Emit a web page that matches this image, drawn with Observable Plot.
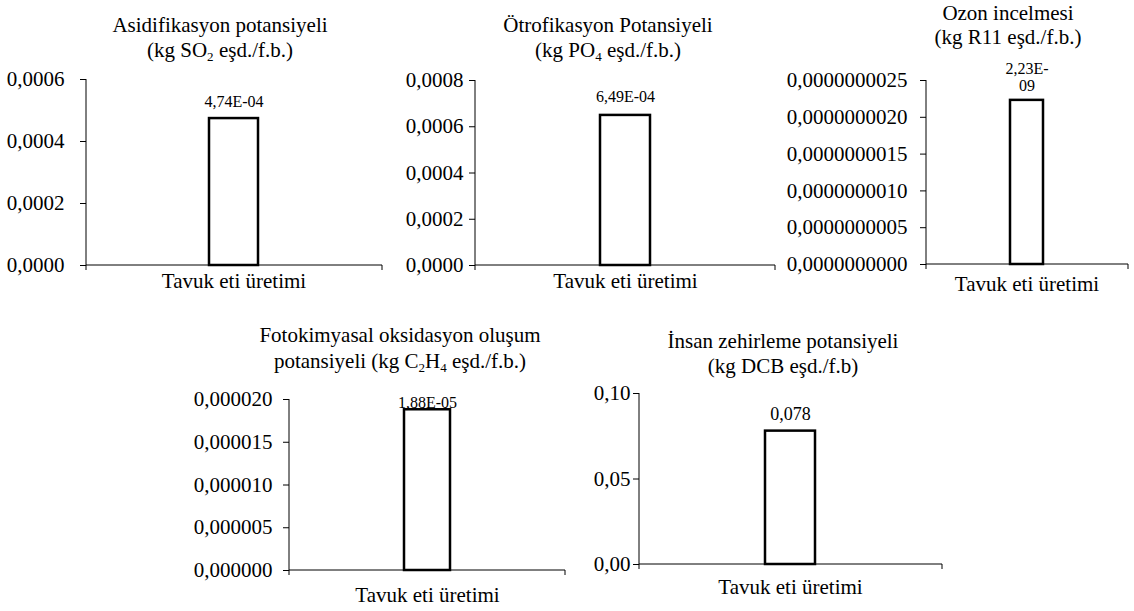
<!DOCTYPE html>
<html><head><meta charset="utf-8">
<script src="https://cdn.jsdelivr.net/npm/d3@7"></script>
<script src="https://cdn.jsdelivr.net/npm/@observablehq/plot@0.6"></script>
<style>
body{margin:0;background:#fff;}
#chart{position:relative;width:1134px;height:611px;font-family:'Liberation Serif', serif;color:#000;overflow:hidden;}
.title{position:absolute;text-align:center;font-size:21px;white-space:nowrap;transform:translateX(-50%);font-family:'Liberation Serif', serif;}
.title .sub{font-size:0.62em;vertical-align:-0.3em;line-height:0;}
.panel{position:absolute;}
</style></head><body><div id="chart"></div>
<script>
// ---- data ----
const category = "Tavuk eti üretimi";
const titleLine1 = ["Asidifikasyon potansiyeli", "Ötrofikasyon Potansiyeli", "Ozon incelmesi", "Fotokimyasal oksidasyon oluşum", "İnsan zehirleme potansiyeli"];
const titleLine2 = ["(kg SO<span class='sub'>2</span> eşd./f.b.)", "(kg PO<span class='sub'>4</span> eşd./f.b.)", "(kg R11 eşd./f.b.)", "potansiyeli (kg C<span class='sub'>2</span>H<span class='sub'>4</span> eşd./f.b.)", "(kg DCB eşd./f.b)"];
const values = [4.74e-4, 6.49e-4, 2.23e-9, 1.88e-5, 0.078];
const valueLabels = ["4,74E-04", "6,49E-04", "2,23E-\n09", "1,88E-05", "0,078"];
const yMax = [0.0006, 0.0008, 2.5e-9, 0.00002, 0.1];
const yTicks1 = [0, 0.0002, 0.0004, 0.0006];
const yTicks2 = [0, 0.0002, 0.0004, 0.0006, 0.0008];
const yTicks3 = [0, 5e-10, 1e-9, 1.5e-9, 2e-9, 2.5e-9];
const yTicks4 = [0, 5e-6, 1e-5, 1.5e-5, 2e-5];
const yTicks5 = [0, 0.05, 0.1];
const yTicks = [yTicks1, yTicks2, yTicks3, yTicks4, yTicks5];
const yDecimals = [4, 4, 10, 6, 2];

// ---- layout ----
const layout = [
  {left:0,   top:55,  width:390, height:245, mL:86,  mR:8, mT:24, mB:35, yPad:16, xPad:8,  dy:-12, fs:16, tx:220,  ty:12.5, lh:25},
  {left:395, top:55,  width:385, height:245, mL:80,  mR:5, mT:25, mB:35, yPad:6,  xPad:8,  dy:-13, fs:16, tx:608,  ty:12.5, lh:25},
  {left:780, top:55,  width:354, height:245, mL:146, mR:6, mT:25, mB:36, yPad:13, xPad:12, dy:-9,  fs:16, tx:1008, ty:1,    lh:24},
  {left:170, top:385, width:400, height:226, mL:119, mR:5, mT:14, mB:41, yPad:11, xPad:17, dy:-2,  fs:16, tx:400,  ty:322,  lh:26},
  {left:575, top:380, width:375, height:231, mL:64,  mR:8, mT:13, mB:47, yPad:3,  xPad:15, dy:-11, fs:18, tx:783,  ty:328.5,lh:25}
];

const FONT = "'Liberation Serif', serif";
const loc = d3.formatLocale({decimal: ",", thousands: ".", grouping: [3], currency: ["", ""]});
const chart = document.getElementById("chart");

values.forEach((v, i) => {
  const L = layout[i];
  const data = [{c: category, v, l: valueLabels[i]}];
  const fmt = loc.format(`.${yDecimals[i]}f`);
  const plot = Plot.plot({
    width: L.width, height: L.height,
    marginLeft: L.mL, marginRight: L.mR, marginTop: L.mT, marginBottom: L.mB,
    style: {fontFamily: FONT, fontSize: "21px", color: "#000", background: "transparent", overflow: "visible"},
    x: {domain: [category], padding: 0.715},
    y: {domain: [0, yMax[i]]},
    marks: [
      Plot.axisY(yTicks[i], {tickSize: 6, tickPadding: L.yPad, tickFormat: fmt, fontSize: 21, fontFamily: FONT, label: null, stroke: "#000"}),
      Plot.axisX({tickSize: 0, tickPadding: L.xPad, fontSize: 21, fontFamily: FONT, label: null}),
      Plot.barY(data, {x: "c", y: "v", fill: "white", stroke: "black", strokeWidth: 2.5}),
      Plot.text(data, {x: "c", y: "v", text: "l", lineAnchor: "bottom", dy: L.dy, fontSize: L.fs, fontFamily: FONT, fill: "#000", lineHeight: 1.1})
    ]
  });
  // axis lines from the plot's own scales
  const sx = plot.scale("x"), sy = plot.scale("y");
  const [xa, xb] = sx.range;
  const y0 = sy.apply(0), yTop = sy.apply(yMax[i]);
  const g = d3.select(plot).append("g").attr("stroke", "#000").attr("stroke-width", 1).attr("fill", "none");
  g.append("line").attr("x1", xa).attr("x2", xa).attr("y1", yTop).attr("y2", y0 + 5);
  g.append("line").attr("x1", xa).attr("x2", xb).attr("y1", y0).attr("y2", y0);
  g.append("line").attr("x1", xb).attr("x2", xb).attr("y1", y0).attr("y2", y0 + 5);
  plot.classList.add("panel");
  plot.style.left = L.left + "px";
  plot.style.top = L.top + "px";
  chart.appendChild(plot);

  const t = document.createElement("div");
  t.className = "title";
  t.style.left = L.tx + "px";
  t.style.top = L.ty + "px";
  t.style.lineHeight = L.lh + "px";
  t.innerHTML = titleLine1[i] + "<br>" + titleLine2[i];
  chart.appendChild(t);
});
</script></body></html>
